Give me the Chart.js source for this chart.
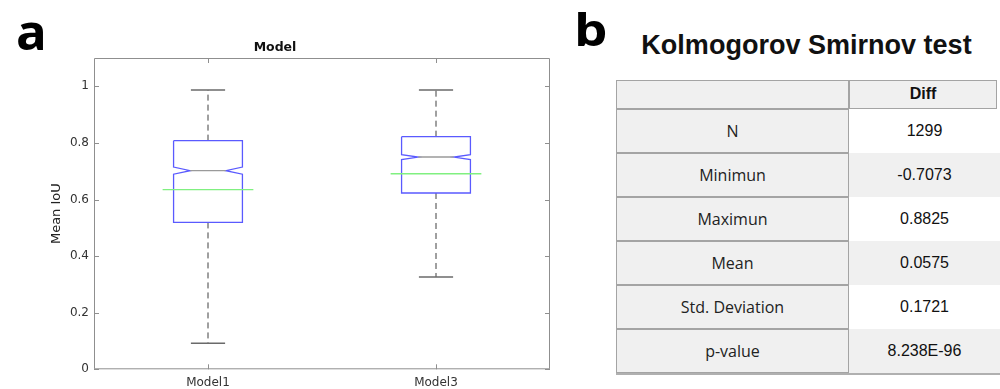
<!DOCTYPE html>
<html>
<head>
<meta charset="utf-8">
<script src="https://cdn.jsdelivr.net/npm/chart.js@4.4.1/dist/chart.umd.min.js"></script>
<style>
  html, body { margin: 0; padding: 0; background: #fff; }
  body { width: 1000px; height: 389px; position: relative; overflow: hidden; }
  #boxCanvas { position: absolute; left: 0; top: 0; }
  .panel-tag { position: absolute; font-family: "Open Sans", sans-serif; font-weight: 700; color: #000; line-height: 1; transform-origin: 0 0; }
  #tagA { left: 16px; top: 5px; font-size: 51px; }
  #tagB { left: 574px; top: 7px; font-size: 44px; transform: scaleX(1.2); }
  #ksTitle { position: absolute; left: 616px; width: 381px; top: 31px; text-align: center;
             font-family: "Liberation Sans", Arial, sans-serif; font-weight: 700; font-size: 28px;
             line-height: 28px; color: #111; transform: scaleX(0.965); transform-origin: 50% 50%; }
  .cell { position: absolute; box-sizing: border-box; display: flex; align-items: center; justify-content: center; }
  .name-cell { background: #f0f0f0; border: 1px solid #a4a4a4; font-family: "Segoe UI", "Open Sans", sans-serif; font-size: 16px; color: #222; }
  .head-cell { background: #f0f0f0; border: 1px solid #a4a4a4; font-family: "Liberation Sans", Arial, sans-serif; font-size: 16px; font-weight: 700; color: #111; }
  .value-cell { font-family: "Liberation Sans", Arial, sans-serif; font-size: 16px; color: #111; }
  #tableBase { position: absolute; left: 616px; top: 373px; width: 384px; height: 2px; background: #b0b0b0; }
</style>
</head>
<body>
<canvas id="boxCanvas" width="560" height="389"></canvas>
<div class="panel-tag" id="tagA">a</div>
<div class="panel-tag" id="tagB">b</div>
<div id="ksTitle">Kolmogorov Smirnov test</div>
<div id="ksTable"></div>
<div id="tableBase"></div>

<script>
// Box plot statistics per model (Mean IoU)
const categories = ['Model1', 'Model3'];
const lowerWhisker = [0.092, 0.326];
const quartile1 = [0.519, 0.623];
const medians = [0.702, 0.750];
const quartile3 = [0.808, 0.822];
const upperWhisker = [0.987, 0.987];
const means = [0.635, 0.691];
const sampleSize = [1299, 1299];
const yTickValues = [0, 0.2, 0.4, 0.6, 0.8, 1];

// Kolmogorov Smirnov test summary
const valueHeader = 'Diff';
const statNames = ['N', 'Minimun', 'Maximun', 'Mean', 'Std. Deviation', 'p-value'];
const statValues = ['1299', '-0.7073', '0.8825', '0.0575', '0.1721', '8.238E-96'];

// Glyph half-widths in category units
const BOX_HALF = 0.151;
const NOTCH_HALF = 0.078;
const CAP_HALF = 0.075;
const MEAN_HALF = 0.199;

const BOX_COLOR = '#5a5aff';
const WHISKER_COLOR = '#404040';
const CAP_COLOR = '#6a6a6a';
const MEDIAN_COLOR = '#9a9a9a';
const MEAN_COLOR = '#80f080';
const FRAME_COLOR = '#8f8f8f';

function lineSet(points, color, width, dash, order) {
  return {
    data: points,
    showLine: true,
    borderColor: color,
    borderWidth: width,
    borderDash: dash || [],
    pointRadius: 0,
    pointHoverRadius: 0,
    fill: false,
    tension: 0,
    order: order
  };
}

const datasets = [];
categories.forEach((name, i) => {
  const x = i + 1;
  const iqr = quartile3[i] - quartile1[i];
  const notch = 1.57 * iqr / Math.sqrt(sampleSize[i]);
  const nLo = medians[i] - notch;
  const nHi = medians[i] + notch;

  // whiskers
  datasets.push(lineSet([{x, y: quartile3[i]}, {x, y: upperWhisker[i]}], WHISKER_COLOR, 1, [6, 4], 5));
  datasets.push(lineSet([{x, y: quartile1[i]}, {x, y: lowerWhisker[i]}], WHISKER_COLOR, 1, [6, 4], 5));
  // whisker caps
  datasets.push(lineSet([{x: x - CAP_HALF, y: upperWhisker[i]}, {x: x + CAP_HALF, y: upperWhisker[i]}], CAP_COLOR, 1.4, null, 4));
  datasets.push(lineSet([{x: x - CAP_HALF, y: lowerWhisker[i]}, {x: x + CAP_HALF, y: lowerWhisker[i]}], CAP_COLOR, 1.4, null, 4));
  // notched box outline
  datasets.push(lineSet([
    {x: x - BOX_HALF, y: quartile3[i]},
    {x: x + BOX_HALF, y: quartile3[i]},
    {x: x + BOX_HALF, y: nHi},
    {x: x + NOTCH_HALF, y: medians[i]},
    {x: x + BOX_HALF, y: nLo},
    {x: x + BOX_HALF, y: quartile1[i]},
    {x: x - BOX_HALF, y: quartile1[i]},
    {x: x - BOX_HALF, y: nLo},
    {x: x - NOTCH_HALF, y: medians[i]},
    {x: x - BOX_HALF, y: nHi},
    {x: x - BOX_HALF, y: quartile3[i]}
  ], BOX_COLOR, 1.3, null, 3));
  // median
  datasets.push(lineSet([{x: x - NOTCH_HALF, y: medians[i]}, {x: x + NOTCH_HALF, y: medians[i]}], MEDIAN_COLOR, 1.4, null, 2));
  // mean
  datasets.push(lineSet([{x: x - MEAN_HALF, y: means[i]}, {x: x + MEAN_HALF, y: means[i]}], MEAN_COLOR, 1.4, null, 1));
});

// Closed axes box with inward tick marks
const frameBox = {
  id: 'frameBox',
  beforeDatasetsDraw(chart) {
    const {ctx, chartArea: a, scales} = chart;
    const tick = 5;
    ctx.save();
    ctx.strokeStyle = FRAME_COLOR;
    ctx.lineWidth = 1;
    ctx.beginPath();
    ctx.rect(a.left + 0.5, a.top + 0.5, a.right - a.left - 1, a.bottom - a.top - 1);
    scales.y.ticks.forEach(t => {
      const py = Math.round(scales.y.getPixelForValue(t.value)) + 0.5;
      ctx.moveTo(a.left, py); ctx.lineTo(a.left + tick, py);
      ctx.moveTo(a.right, py); ctx.lineTo(a.right - tick, py);
    });
    scales.x.ticks.forEach(t => {
      const px = Math.round(scales.x.getPixelForValue(t.value)) + 0.5;
      ctx.moveTo(px, a.bottom); ctx.lineTo(px, a.bottom - tick);
      ctx.moveTo(px, a.top); ctx.lineTo(px, a.top + tick);
    });
    ctx.stroke();
    ctx.restore();
  }
};

Chart.defaults.font.family = '"DejaVu Sans", sans-serif';

new Chart(document.getElementById('boxCanvas'), {
  type: 'scatter',
  data: { datasets },
  plugins: [frameBox],
  options: {
    responsive: false,
    animation: false,
    devicePixelRatio: 1,
    layout: { padding: { left: 0, right: 10, top: 0, bottom: 0 } },
    plugins: {
      legend: { display: false },
      tooltip: { enabled: false },
      title: {
        display: true,
        text: 'Model',
        color: '#111',
        font: { size: 12.5, weight: 'bold' },
        padding: { top: 40, bottom: 3 }
      }
    },
    scales: {
      x: {
        type: 'linear',
        min: 0.5,
        max: 2.5,
        afterBuildTicks: s => { s.ticks = categories.map((c, i) => ({ value: i + 1 })); },
        afterFit: s => { s.height = 19.7; },
        ticks: {
          callback: v => categories[v - 1],
          color: '#333',
          font: { size: 12 },
          padding: 6,
          maxRotation: 0
        },
        grid: { display: false, drawTicks: false },
        border: { display: false }
      },
      y: {
        type: 'linear',
        min: 0,
        max: 1.1,
        afterBuildTicks: s => { s.ticks = yTickValues.map(v => ({ value: v })); },
        afterFit: s => { s.width = 94; },
        ticks: {
          callback: v => String(v),
          color: '#333',
          font: { size: 12 },
          padding: 5
        },
        grid: { display: false, drawTicks: false },
        border: { display: false },
        title: {
          display: true,
          text: 'Mean IoU',
          color: '#222',
          font: { size: 13 },
          padding: { top: 49, bottom: 0 }
        }
      }
    }
  }
});

// Summary table
(function buildTable() {
  const host = document.getElementById('ksTable');
  const left = 616, split = 849, headRight = 997, pageRight = 1000;
  const top = 80, headH = 28.7, rowH = 44;
  const add = (cls, x, y, w, h, text, bg) => {
    const d = document.createElement('div');
    d.className = 'cell ' + cls;
    d.style.left = x + 'px'; d.style.top = y + 'px';
    d.style.width = w + 'px'; d.style.height = h + 'px';
    if (bg) d.style.background = bg;
    d.textContent = text;
    host.appendChild(d);
  };
  add('name-cell', left, top, split - left, headH, '');
  add('head-cell', split, top, headRight - split, headH, valueHeader);
  statNames.forEach((name, r) => {
    const y = top + headH + r * rowH;
    add('name-cell', left, y, split - left, rowH, name);
    add('value-cell', split, y, pageRight - split, rowH, statValues[r], r % 2 === 0 ? '#ffffff' : '#f0f0f0');
  });
})();
</script>
</body>
</html>
